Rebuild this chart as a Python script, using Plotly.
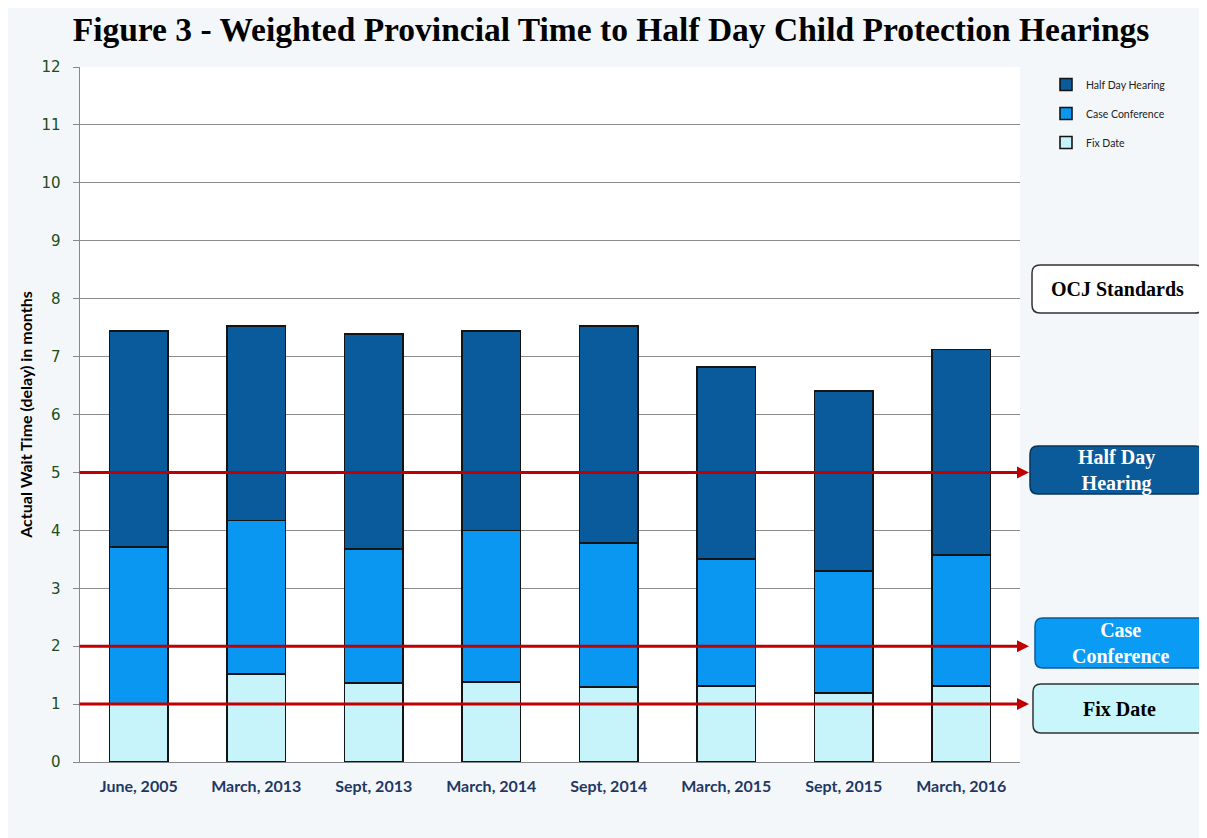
import plotly.graph_objects as go

# data
periods = ['June, 2005', 'March, 2013', 'Sept, 2013', 'March, 2014',
           'Sept, 2014', 'March, 2015', 'Sept, 2015', 'March, 2016']
fix_date = [1.00, 1.52, 1.36, 1.38, 1.30, 1.31, 1.19, 1.31]
case_conference = [2.71, 2.65, 2.32, 2.62, 2.48, 2.20, 2.11, 2.26]
half_day_hearing = [3.73, 3.36, 3.71, 3.44, 3.75, 3.31, 3.11, 3.55]

standard_levels = [5, 2, 1]
standard_labels = ['Half Day<br>Hearing', 'Case<br>Conference', 'Fix Date']

# the page body has an 8px margin, so the figure is drawn 8px in
OFF = 8
W, H = 1207 - OFF, 838 - OFF
L, R, T, B = 80 - OFF, 1020 - OFF, 67 - OFF, 762 - OFF


def px_x(p):
    return (p - OFF - L) / (R - L)


def px_y(p):
    return (B - (p - OFF)) / (B - T)


def rounded_box(x0, y0, x1, y1, r=8):
    # screen pixel coords -> paper path with rounded corners
    rx = r / (R - L)
    ry = r / (B - T)
    a, b = px_x(x0), px_x(x1)
    top, bot = px_y(y0), px_y(y1)
    return (f'M{a + rx},{top} L{b - rx},{top} Q{b},{top} {b},{top - ry} '
            f'L{b},{bot + ry} Q{b},{bot} {b - rx},{bot} '
            f'L{a + rx},{bot} Q{a},{bot} {a},{bot + ry} '
            f'L{a},{top - ry} Q{a},{top} {a + rx},{top} Z')


fig = go.Figure()
outline = dict(color='#141414', width=1.6)
fig.add_trace(go.Bar(x=periods, y=fix_date, name='Fix Date', legendrank=3,
                     marker=dict(color='#c6f4fa', line=outline), legendgroup='a'))
fig.add_trace(go.Bar(x=periods, y=case_conference, name='Case Conference', legendrank=2,
                     marker=dict(color='#0a97f2', line=outline), legendgroup='b'))
fig.add_trace(go.Bar(x=periods, y=half_day_hearing, name='Half Day Hearing', legendrank=1,
                     marker=dict(color='#095b9c', line=outline), legendgroup='c'))

# red standard arrows
annotations = []
for lvl in standard_levels:
    annotations.append(dict(
        x=px_x(1029), y=lvl, xref='paper', yref='y',
        ax=-951, ay=0, axref='pixel', ayref='pixel',
        text='', showarrow=True, arrowhead=2, arrowsize=0.8,
        arrowwidth=3, arrowcolor='#c00000'))

boxes = [
    ((1032, 265, 1203, 313), 'white', '#333333', '<b>OCJ Standards</b>', 'black'),
    ((1030, 446, 1203, 494), '#0b5a9a', '#06345c', '<b>' + standard_labels[0] + '</b>', 'white'),
    ((1035, 618, 1206, 668), '#0a9cf5', '#0b5a9a', '<b>' + standard_labels[1] + '</b>', 'white'),
    ((1033, 684, 1206, 733), '#c8f6fb', '#333333', '<b>' + standard_labels[2] + '</b>', 'black'),
]
shapes = []
for (x0, y0, x1, y1), fill, border, label, tcol in boxes:
    shapes.append(dict(type='path', xref='paper', yref='paper',
                       path=rounded_box(x0, y0, x1, y1),
                       fillcolor=fill, line=dict(color=border, width=1.5)))
    annotations.append(dict(x=px_x((x0 + x1) / 2), y=px_y((y0 + y1) / 2),
                            xref='paper', yref='paper', xanchor='center', yanchor='middle',
                            text=label, showarrow=False,
                            font=dict(family='Liberation Serif', size=20, color=tcol)))

fig.update_layout(
    width=W, height=H,
    margin=dict(l=L, r=W - R, t=T, b=H - B),
    title=dict(text='<b>Figure 3 - Weighted Provincial Time to Half Day Child Protection Hearings</b>',
               x=(611 - OFF) / W, xanchor='center', y=1 - (29 - OFF) / H, yanchor='middle',
               font=dict(family='Liberation Serif', size=33.5, color='black')),
    barmode='stack', bargap=0.5,
    paper_bgcolor='#f4f7f9', plot_bgcolor='white',
    shapes=shapes, annotations=annotations,
    legend=dict(x=px_x(1046), y=px_y(70), xanchor='left', yanchor='top',
                traceorder='grouped', tracegroupgap=10,
                font=dict(family='Lato', size=10.5, color='#222'),
                bgcolor='rgba(0,0,0,0)', itemwidth=30),
    xaxis=dict(showline=True, linecolor='#888', linewidth=1, ticklabelstandoff=10,
               tickfont=dict(family='Lato', size=16, color='#1f3864', weight='bold')),
    yaxis=dict(range=[0, 12], dtick=1, showline=True, linecolor='#888', linewidth=1,
               ticks='outside', ticklen=6, tickcolor='#888', ticksuffix='\u00a0\u00a0',
               gridcolor='#8c8c8c', gridwidth=1, zeroline=False,
               tickfont=dict(family='DejaVu Sans', size=15, color='#1b4d1b'),
               title=dict(text='<b>Actual Wait Time (delay) in months</b>', standoff=4,
                          font=dict(family='Lato', size=16, color='black'))),
)

fig.write_html('out.html')
